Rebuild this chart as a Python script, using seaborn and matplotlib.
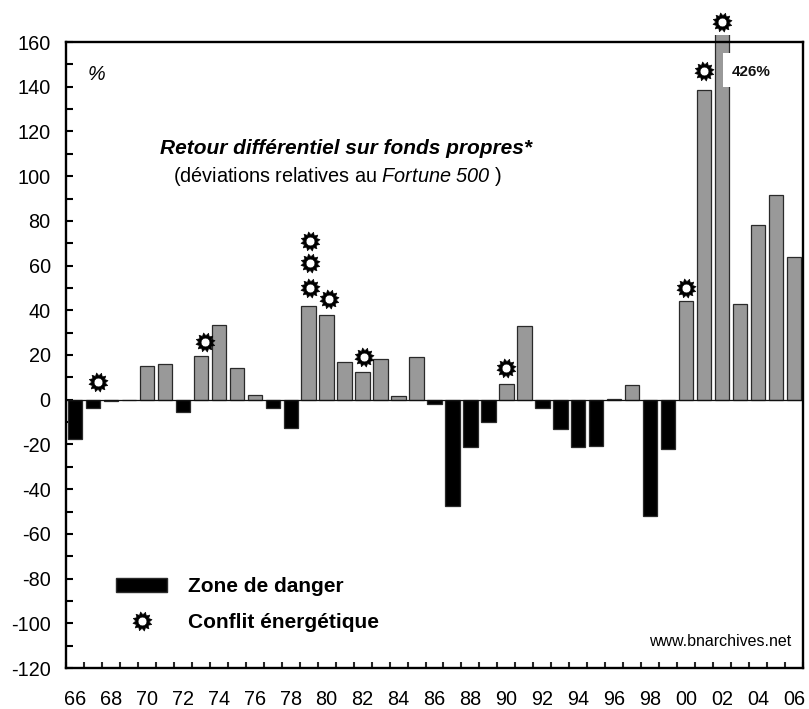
import numpy as np
import pandas as pd
import seaborn as sns
import matplotlib.pyplot as plt
from matplotlib.lines import Line2D
from matplotlib.patches import Patch, Rectangle
from matplotlib.path import Path

years = ['66', '67', '68', '69', '70', '71', '72', '73', '74', '75', '76', '77', '78', '79',
         '80', '81', '82', '83', '84', '85', '86', '87', '88', '89', '90', '91', '92', '93',
         '94', '95', '96', '97', '98', '99', '00', '01', '02', '03', '04', '05', '06']
returns = [-17.5, -3.5, -0.5, 0, 15, 16, -5.5, 19.5, 33.5, 14, 2, -3.5, -12.5, 42,
           38, 17, 12.5, 18, 1.5, 19, -2, -47.5, -21, -10, 7, 33, -3.5, -13,
           -21, -20.5, 0.3, 6.5, -52, -22, 44, 138.5, 426, 43, 78, 91.5, 64]
conflict_years = ['67', '73', '79', '79', '79', '80', '82', '90', '00', '01', '02']
conflict_levels = [8, 26, 50, 61, 71, 45, 19, 14, 50, 147, 169]
# markers are not always centred on their bar in the original
conflict_shift = [0.28, 0.22, 0.05, 0.05, 0.05, 0.15, 0.1, 0, 0, 0, 0]

sns.set_theme(style='white')
plt.rcParams['font.family'] = ['Liberation Sans', 'DejaVu Sans']
plt.rcParams['mathtext.fontset'] = 'custom'
plt.rcParams['mathtext.it'] = 'Liberation Sans:italic'
plt.rcParams['mathtext.rm'] = 'Liberation Sans:italic'
plt.rcParams['axes.unicode_minus'] = False

df = pd.DataFrame({'year': years, 'ret': returns})
df['zone'] = np.where(df['ret'] < 0, 'danger', 'ok')

# spiky black ring with a hole in the middle, for the conflict markers
n_pts = 24
angles = np.linspace(0, 2 * np.pi, n_pts, endpoint=False) + 0.2
radii = np.where(np.arange(n_pts) % 2 == 0, 1.0, 0.7)
outer = np.column_stack([radii * np.cos(angles), radii * np.sin(angles)])
inner = 0.45 * np.column_stack([np.cos(angles[::-1]), np.sin(angles[::-1])])
verts = np.vstack([outer, outer[:1], inner, inner[:1]])
codes = ([Path.MOVETO] + [Path.LINETO] * (n_pts - 1) + [Path.CLOSEPOLY]) * 2
burst = Path(verts, codes)

fig = plt.figure(figsize=(8.09, 7.09), dpi=100)
ax = fig.add_axes([66 / 809, 1 - 668 / 709, (803 - 66) / 809, (668 - 42) / 709])

sns.barplot(data=df, x='year', y='ret', hue='zone', dodge=False, width=0.8, order=years,
            palette={'danger': '#000000', 'ok': '#999999'}, saturation=1,
            edgecolor='#2a2a2a', linewidth=0.9, legend=False, ax=ax)
ax.set_xlim(-0.5, len(years) - 0.5)
ax.set_ylim(-120, 160)
ax.set_xlabel('')
ax.set_ylabel('')

# the 2002 bar runs past the frame: cut it just above the top edge
clip = Rectangle((-1, -120), len(years) + 2, 283, transform=ax.transData)
for bar in ax.patches:
    if bar.get_height() > 160:
        bar.set_clip_path(clip)

ax.axhline(0, color='#111111', lw=0.9, zorder=1.5)

conflict_x = [years.index(y) + d for y, d in zip(conflict_years, conflict_shift)]
ax.scatter(conflict_x, conflict_levels, marker=burst, s=190, facecolor='black',
           edgecolor='black', linewidth=0.4, clip_on=False, zorder=5)

for s in ax.spines.values():
    s.set_visible(True)
    s.set_color('black')
    s.set_linewidth(1.7)

ax.set_yticks(np.arange(-120, 161, 20))
ax.set_yticks(np.arange(-110, 160, 20), minor=True)
ax.tick_params(axis='y', which='both', direction='in', length=5, width=1.5, left=True,
               labelsize=14.3, pad=11, colors='black')
ax.set_xticks(range(0, len(years), 2))
ax.set_xticklabels(years[::2])
ax.set_xticks(np.arange(-0.5, len(years)), minor=True)
ax.tick_params(axis='x', which='major', length=0, labelsize=14.3, pad=15.5, colors='black')
ax.tick_params(axis='x', which='minor', direction='in', length=4.5, width=1.5, bottom=True)

fig.text(88 / 809, 1 - 74 / 709, '%', style='italic', fontsize=14.3,
         ha='left', va='center', color='black')
fig.text(346 / 809, 1 - 149 / 709, 'Retour différentiel sur fonds propres*',
         style='italic', weight='bold', fontsize=15, ha='center', va='center', color='black')
fig.text(337 / 809, 1 - 177 / 709, r'(déviations relatives au $\mathit{Fortune\ 500}$ )',
         fontsize=14.3, ha='center', va='center', color='black')
fig.text(791 / 809, 1 - 641 / 709, 'www.bnarchives.net', fontsize=11.5,
         ha='right', va='center', color='black')
fig.add_artist(Rectangle((723 / 809, 1 - 87 / 709), 45 / 809, 34 / 709, transform=fig.transFigure,
                         facecolor='white', edgecolor='none', zorder=4))
fig.text(732 / 809, 1 - 72 / 709, '426%', weight='bold', fontsize=11,
         ha='left', va='center', color='#111111', zorder=6)

handles = [Patch(facecolor='black', edgecolor='#2a2a2a', label='Zone de danger'),
           Line2D([], [], ls='none', marker=burst, ms=13.8, mfc='black', mec='black', mew=0.4,
                  label='Conflit énergétique')]
ax.legend(handles=handles, loc='upper left', bbox_to_anchor=(110 / 809, 1 - 571 / 709),
          bbox_transform=fig.transFigure, frameon=False, handlelength=2.45, handleheight=0.72,
          handletextpad=1.0, labelspacing=0.8, borderpad=0.3, borderaxespad=0,
          prop={'weight': 'bold', 'size': 15}, labelcolor='black')

fig.savefig('out.png', dpi=100)
plt.close()
